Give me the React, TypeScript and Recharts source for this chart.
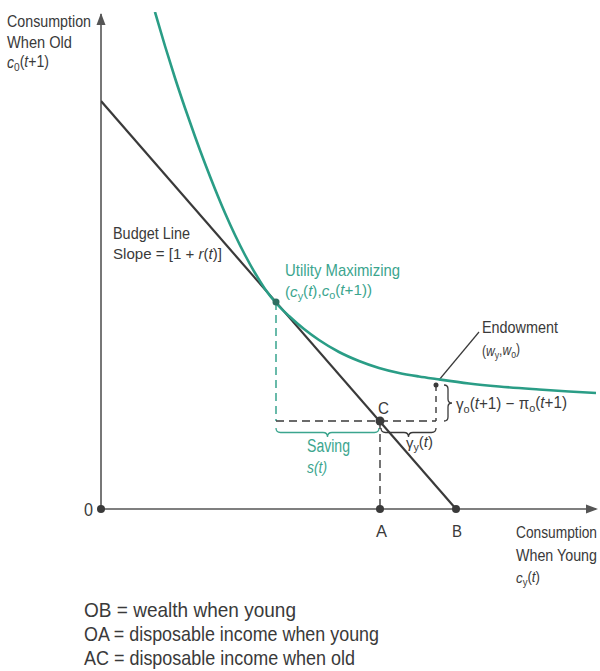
import React from 'react';
import { LineChart, Line, XAxis, YAxis, ReferenceLine, ReferenceDot, ReferenceArea } from 'recharts';

// Indifference curve (data units)
const curveX = [54, 64, 74, 84, 94, 104, 114, 124, 134, 144, 154, 164, 175, 188, 203, 218, 238, 258, 278, 298, 318, 335, 368, 398, 438, 468, 495];
const curveY = [497, 463, 431, 401, 372.5, 345.5, 320, 296, 274, 254, 236, 220, 206, 193, 180, 169, 157, 148, 141, 136, 132.5, 130, 125.5, 122.5, 119.5, 117.5, 116];
// Budget line endpoints
const budgetX = [0, 355];
const budgetY = [408, 0];
// Key points
const ptO = [0, 0];
const ptA = [279, 0];
const ptB = [355, 0];
const ptC = [279, 88];
const ptT = [175, 207];
const ptE = [335, 124];
const endowPointer = [378, 177];
const axisMax = [497, 497];

const curveData = curveX.map((x, i) => ({ x, y: curveY[i] }));
const budgetData = budgetX.map((x, i) => ({ x, y: budgetY[i] }));

const TEAL = '#2a9d86';
const TEAL_TXT = '#3ba58e';
const DARK = '#3a3a3a';
const GRAY = '#555';
const FONT = "'Liberation Sans', Arial, sans-serif";

const braceDown = (color: string, depth: number) => (p: any) => {
  const x1 = p.x, x2 = p.x + p.width, y = p.y;
  const mid = (x1 + x2) / 2;
  const h = depth;
  const d = `M${x1},${y} Q${x1},${y + h / 2} ${x1 + h / 2},${y + h / 2} L${mid - h / 2},${y + h / 2} Q${mid},${y + h / 2} ${mid},${y + h} Q${mid},${y + h / 2} ${mid + h / 2},${y + h / 2} L${x2 - h / 2},${y + h / 2} Q${x2},${y + h / 2} ${x2},${y}`;
  return <path d={d} fill="none" stroke={color} strokeWidth={1.3} />;
};

const braceRight = (color: string, depth: number) => (p: any) => {
  const y1 = p.y, y2 = p.y + p.height, x = p.x;
  const mid = (y1 + y2) / 2;
  const h = depth;
  const d = `M${x},${y1} Q${x + h / 2},${y1} ${x + h / 2},${y1 + h / 2} L${x + h / 2},${mid - h / 2} Q${x + h / 2},${mid} ${x + h},${mid} Q${x + h / 2},${mid} ${x + h / 2},${mid + h / 2} L${x + h / 2},${y2 - h / 2} Q${x + h / 2},${y2} ${x},${y2}`;
  return <path d={d} fill="none" stroke={color} strokeWidth={1.3} />;
};

const arrowUp = (p: any) => (
  <polygon points={`${p.cx},${p.cy} ${p.cx - 4.5},${p.cy + 12} ${p.cx + 4.5},${p.cy + 12}`} fill={GRAY} />
);
const arrowRight = (p: any) => (
  <polygon points={`${p.cx},${p.cy} ${p.cx - 12},${p.cy - 4.5} ${p.cx - 12},${p.cy + 4.5}`} fill={GRAY} />
);

const Sub = ({ children }: { children: React.ReactNode }) => (
  <tspan fontSize="0.72em" dy="0.25em">{children}</tspan>
);
const I = ({ children }: { children: React.ReactNode }) => <tspan fontStyle="italic">{children}</tspan>;

const T = ({ x, y, s, w, fill, italic, children }: any) => (
  <text x={x} y={y} fontSize={s} textLength={w} lengthAdjust="spacingAndGlyphs" fill={fill || DARK} fontStyle={italic ? 'italic' : undefined}>
    {children}
  </text>
);

export default function App() {
  return (
    <div style={{ position: 'absolute', left: 0, top: 0, width: 600, height: 671, background: '#fff' }}>
      <LineChart width={600} height={671} margin={{ top: 12, right: 0, bottom: 162, left: 101 }}>
        <XAxis type="number" dataKey="x" domain={[0, 499]} hide allowDataOverflow />
        <YAxis type="number" dataKey="y" domain={[0, 497]} hide allowDataOverflow />
        {/* axes */}
        <ReferenceLine segment={[{ x: ptO[0], y: ptO[1] }, { x: ptO[0], y: axisMax[1] - 2 }]} stroke={GRAY} strokeWidth={1.6} ifOverflow="visible" />
        <ReferenceLine segment={[{ x: ptO[0], y: ptO[1] }, { x: axisMax[0] - 2, y: ptO[1] }]} stroke={GRAY} strokeWidth={1.6} ifOverflow="visible" />
        <ReferenceDot x={ptO[0]} y={axisMax[1] - 1} shape={arrowUp} ifOverflow="visible" />
        <ReferenceDot x={axisMax[0]} y={ptO[1]} shape={arrowRight} ifOverflow="visible" />
        {/* dashed guides */}
        <ReferenceLine segment={[{ x: ptT[0], y: ptT[1] }, { x: ptT[0], y: ptC[1] }]} stroke={TEAL} strokeWidth={1.4} strokeDasharray="8 5" ifOverflow="visible" />
        <ReferenceLine segment={[{ x: ptT[0], y: ptC[1] }, { x: ptE[0], y: ptC[1] }]} stroke={DARK} strokeWidth={1.4} strokeDasharray="8 5" ifOverflow="visible" />
        <ReferenceLine segment={[{ x: ptE[0], y: ptE[1] }, { x: ptE[0], y: ptC[1] }]} stroke={DARK} strokeWidth={1.4} strokeDasharray="6 5" ifOverflow="visible" />
        <ReferenceLine segment={[{ x: ptC[0], y: ptC[1] }, { x: ptA[0], y: ptA[1] }]} stroke={DARK} strokeWidth={1.4} strokeDasharray="8 5" ifOverflow="visible" />
        {/* endowment pointer */}
        <ReferenceLine segment={[{ x: endowPointer[0], y: endowPointer[1] }, { x: ptE[0] + 3, y: ptE[1] + 5 }]} stroke={DARK} strokeWidth={1.2} ifOverflow="visible" />
        {/* braces */}
        <ReferenceArea x1={ptT[0]} x2={ptC[0] - 1} y1={ptC[1] - 7} y2={ptC[1] - 17} shape={braceDown(TEAL_TXT, 9)} ifOverflow="visible" />
        <ReferenceArea x1={ptC[0] + 1} x2={ptE[0]} y1={ptC[1] - 7} y2={ptC[1] - 17} shape={braceDown(DARK, 9)} ifOverflow="visible" />
        <ReferenceArea x1={ptE[0] + 8} x2={ptE[0] + 16} y1={ptE[1]} y2={ptC[1]} shape={braceRight(DARK, 8)} ifOverflow="visible" />
        {/* lines */}
        <Line data={budgetData} dataKey="y" type="linear" stroke={DARK} strokeWidth={2.2} dot={false} isAnimationActive={false} />
        <Line data={curveData} dataKey="y" type="monotone" stroke={TEAL} strokeWidth={2.6} dot={false} isAnimationActive={false} />
        {/* dots */}
        <ReferenceDot x={ptT[0]} y={ptT[1]} r={3.5} fill="#2f6f62" stroke="none" ifOverflow="visible" />
        <ReferenceDot x={ptC[0]} y={ptC[1]} r={4.5} fill={DARK} stroke="none" ifOverflow="visible" />
        <ReferenceDot x={ptE[0]} y={ptE[1]} r={2.5} fill={DARK} stroke="none" ifOverflow="visible" />
        <ReferenceDot x={ptO[0]} y={ptO[1]} r={4} fill={DARK} stroke="none" ifOverflow="visible" />
        <ReferenceDot x={ptA[0]} y={ptA[1]} r={4} fill={DARK} stroke="none" ifOverflow="visible" />
        <ReferenceDot x={ptB[0]} y={ptB[1]} r={4} fill={DARK} stroke="none" ifOverflow="visible" />
      </LineChart>
      <svg width={600} height={671} style={{ position: 'absolute', left: 0, top: 0, pointerEvents: 'none' }}>
        <g fontFamily={FONT} fill={DARK}>
          <T x={7} y={27} s={17} w={84}>Consumption</T>
          <T x={7} y={48} s={17} w={65}>When Old</T>
          <T x={7} y={68} s={16} w={42}><I>c</I><Sub>0</Sub><tspan dy="-0.25em">(</tspan><I>t</I>+1)</T>

          <T x={113} y={239} s={17} w={77}>Budget Line</T>
          <T x={113} y={259} s={15} w={109}>Slope = [1 + <I>r</I>(<I>t</I>)]</T>

          <T x={285} y={276} s={17} w={115} fill={TEAL_TXT}>Utility Maximizing</T>
          <T x={285} y={297} s={15} w={87} fill={TEAL_TXT}>(<I>c</I><Sub>y</Sub><tspan dy="-0.25em">(</tspan><I>t</I>),<I>c</I><Sub>o</Sub><tspan dy="-0.25em">(</tspan><I>t</I>+1))</T>

          <T x={482} y={333} s={17} w={76}>Endowment</T>
          <T x={482} y={356} s={14} w={38}>(<I>w</I><Sub>y</Sub><tspan dy="-0.25em">,</tspan><I>w</I><Sub>o</Sub><tspan dy="-0.25em">)</tspan></T>

          <T x={378} y={414} s={17} w={11}>C</T>
          <T x={456} y={410} s={16} w={111}>γ<Sub>o</Sub><tspan dy="-0.25em">(</tspan><I>t</I>+1) − π<Sub>o</Sub><tspan dy="-0.25em">(</tspan><I>t</I>+1)</T>

          <T x={307} y={452} s={18} w={43} fill={TEAL_TXT}>Saving</T>
          <T x={307} y={473} s={16} w={20} fill={TEAL_TXT} italic>s(t)</T>
          <T x={406} y={448} s={15} w={27}>γ<Sub>y</Sub><tspan dy="-0.25em">(</tspan><I>t</I>)</T>

          <T x={84} y={516} s={18} w={9}>0</T>
          <T x={376} y={537} s={17} w={11}>A</T>
          <T x={452} y={537} s={17} w={10}>B</T>

          <T x={516} y={538} s={17} w={81}>Consumption</T>
          <T x={516} y={561} s={17} w={81}>When Young</T>
          <T x={516} y={583} s={15} w={24}><I>c</I><Sub>y</Sub><tspan dy="-0.25em">(</tspan><I>t</I>)</T>

          <T x={84} y={617} s={21} w={212}>OB = wealth when young</T>
          <T x={84} y={641} s={21} w={295}>OA = disposable income when young</T>
          <T x={84} y={665} s={21} w={271}>AC = disposable income when old</T>
        </g>
      </svg>
    </div>
  );
}
